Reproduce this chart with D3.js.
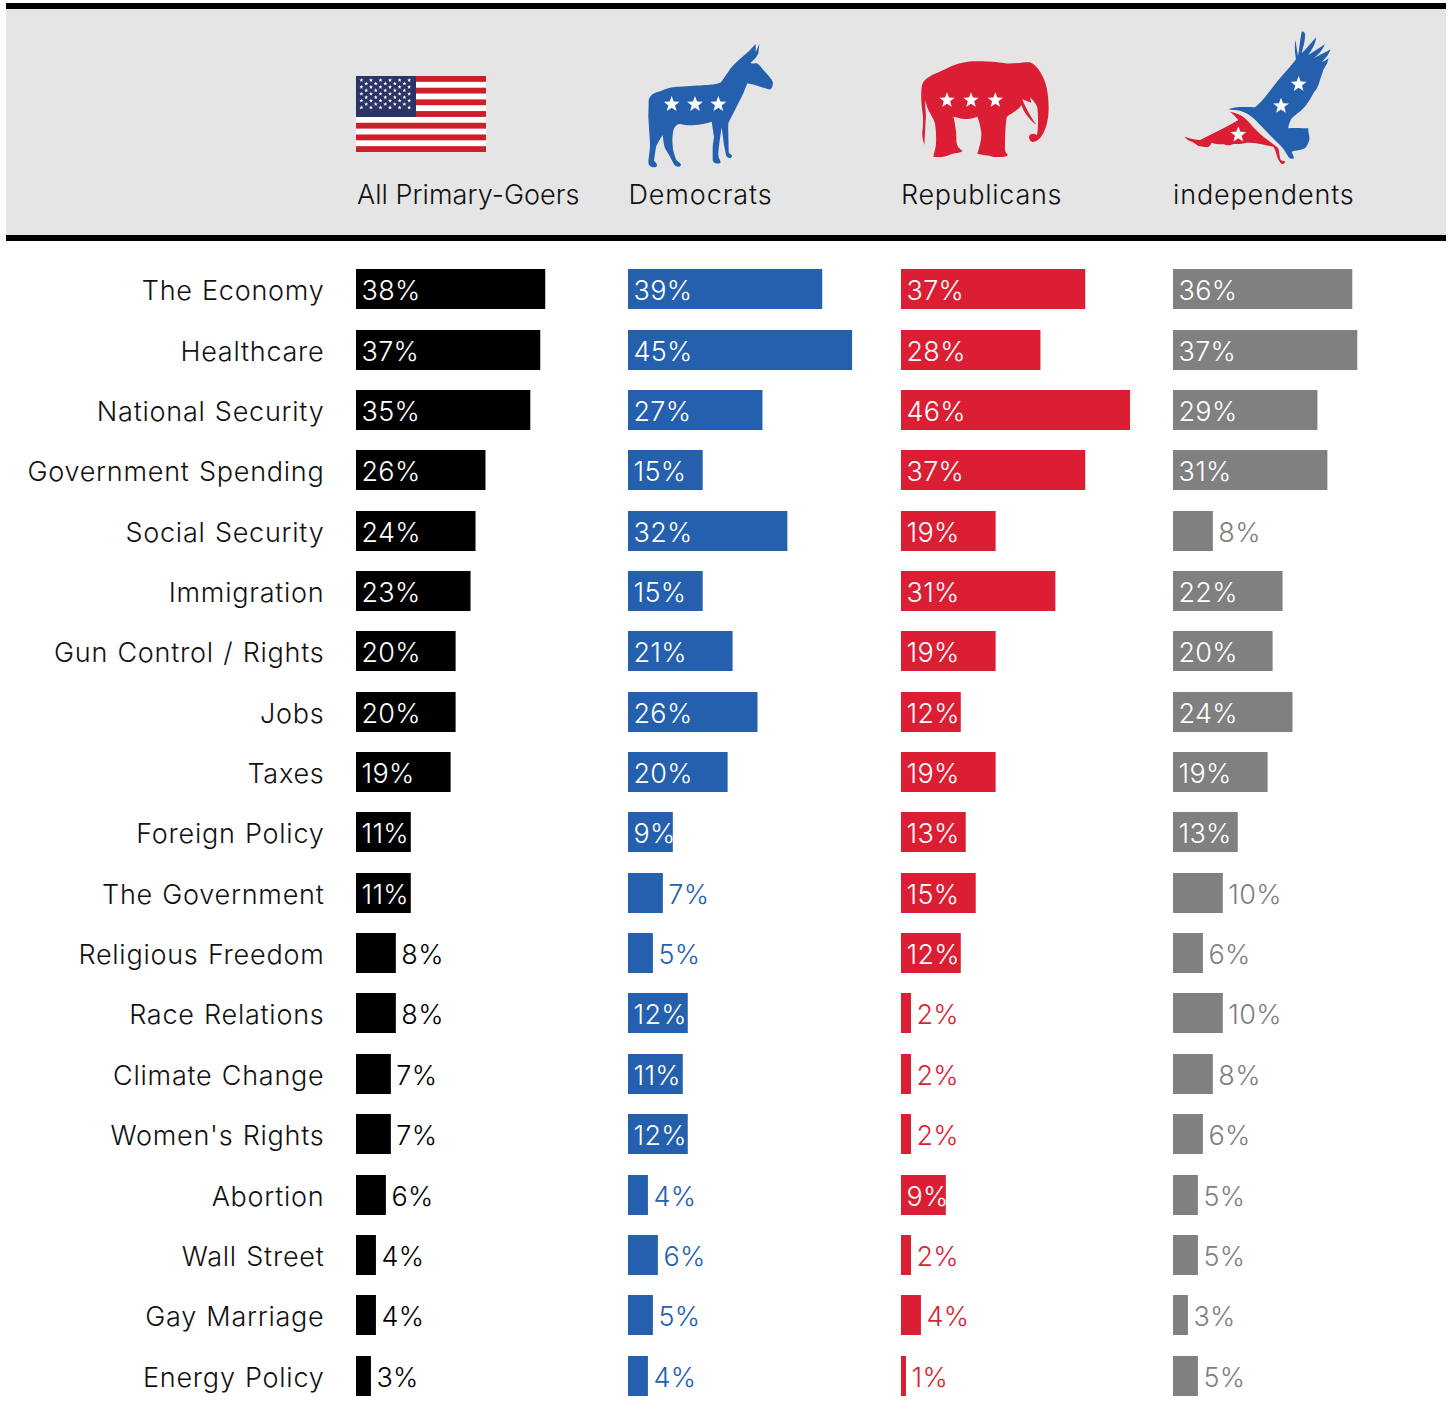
<!DOCTYPE html>
<html><head><meta charset="utf-8">
<script src="https://cdn.jsdelivr.net/npm/d3@7"></script>
<style>html,body{margin:0;padding:0;background:#fff}svg{display:block}
text{font-family:Inter,"Noto Sans",sans-serif;font-weight:300;font-size:27px}</style>
</head><body><div id="c"></div>
<script>
const categories=["The Economy","Healthcare","National Security","Government Spending","Social Security","Immigration","Gun Control / Rights","Jobs","Taxes","Foreign Policy","The Government","Religious Freedom","Race Relations","Climate Change","Women's Rights","Abortion","Wall Street","Gay Marriage","Energy Policy"];
const seriesNames=["All Primary-Goers","Democrats","Republicans","independents"];
const allPrimaryGoers=[38,37,35,26,24,23,20,20,19,11,11,8,8,7,7,6,4,4,3];
const democrats=[39,45,27,15,32,15,21,26,20,9,7,5,12,11,12,4,6,5,4];
const republicans=[37,28,46,37,19,31,19,12,19,13,15,12,2,2,2,9,2,4,1];
const independents=[36,37,29,31,8,22,20,24,19,13,10,6,10,8,6,5,5,3,5];
const seriesValues=[allPrimaryGoers,democrats,republicans,independents];
const seriesColors=["#000000","#2460ae","#db1e33","#808080"];
const colStart=[356,628,901,1173];
const headerSpacing=[0.05,0.9,0.7,0.85];
const headerOffset=[1,0.5,0,0];

const W=1449,H=1414;
const svg=d3.select("#c").append("svg").attr("width",W).attr("height",H);
svg.append("rect").attr("x",6).attr("y",3).attr("width",1440).attr("height",238).attr("fill","#e5e5e5");
svg.append("rect").attr("x",6).attr("y",3).attr("width",1440).attr("height",6).attr("fill","#000");
svg.append("rect").attr("x",6).attr("y",235).attr("width",1440).attr("height",6).attr("fill","#000");

const x=d3.scaleLinear().domain([0,10]).range([0,49.8]);
const y=d3.scaleBand().domain(categories).range([269.66,1396.14]).paddingInner(20.36/60.36).paddingOuter(0);
const bh=40;
const rowY=d=>Math.floor(y(d));
const inside=d=>d>=9&&d!==10;

svg.append("g").selectAll("text").data(categories).join("text")
 .attr("x",324.5).attr("y",d=>rowY(d)+30.5).attr("text-anchor","end").attr("fill","#111")
 .style("letter-spacing","0.75px").style("word-spacing","1px").text(d=>d);

seriesValues.forEach((vals,si)=>{
 const g=svg.append("g").attr("transform",`translate(${colStart[si]},0)`);
 g.append("text").attr("x",headerOffset[si]).attr("y",204).attr("fill","#111")
  .style("letter-spacing",headerSpacing[si]+"px").text(seriesNames[si]);
 const rows=g.selectAll("g").data(vals).join("g").attr("transform",(d,i)=>`translate(0,${rowY(categories[i])})`);
 rows.append("rect").attr("width",d=>x(d)).attr("height",bh).attr("fill",seriesColors[si]);
 rows.append("text").attr("y",30.5)
  .attr("x",d=>inside(d)?5.5:x(d)+5.5).style("letter-spacing","0.3px")
  .attr("fill",d=>inside(d)?"#fff":seriesColors[si]).text(d=>d+"%");
});

// ---- icons ----
function starPath(cx,cy,R){const r=R*0.42;let p=[];for(let i=0;i<10;i++){const a=-Math.PI/2+i*Math.PI/5,q=i%2?r:R;p.push([cx+q*Math.cos(a),cy+q*Math.sin(a)]);}return "M"+p.map(d=>d.join(",")).join("L")+"Z";}
// flag
const flag=svg.append("g").attr("transform","translate(356,76)");
flag.append("rect").attr("width",130).attr("height",76).attr("fill","#fff");
d3.range(0,13,2).forEach(i=>flag.append("rect").attr("y",i*76/13).attr("width",130).attr("height",76/13).attr("fill","#cb1f2a"));
flag.append("rect").attr("width",60).attr("height",41).attr("fill","#2b3467");
d3.range(9).forEach(r=>{const n=r%2?5:6;d3.range(n).forEach(c=>{
 flag.append("path").attr("d",starPath((r%2?10.2:5.4)+c*9.55,4.2+r*3.42,2.1)).attr("fill","#fff");});});

// donkey (coords in 3x crop at 340,20)
const don=svg.append("g").attr("transform","translate(340,20) scale(0.33333)");
don.append("path").attr("fill","#2460ae").attr("d","M1247,72L1228,92L1210,108C1195,120 1180,135 1172,145C1160,162 1150,178 1143,187C1130,194 1110,195 1050,198C1020,200 1000,201 990,203C975,207 965,213 950,217C935,222 926,232 926,245L925,290L928,340C930,360 930,370 930,380L925,425C925,438 935,442 945,442C955,440 952,430 942,422L948,380C955,365 962,355 968,345C970,365 972,375 975,385L990,410L1003,435C1010,442 1022,442 1023,434C1020,426 1010,424 1008,418C1002,400 998,390 998,375C996,355 998,340 1002,325C1008,316 1012,312 1020,312C1035,316 1050,316 1060,316C1080,314 1100,310 1115,305L1122,350C1120,365 1118,375 1118,385L1118,420C1120,430 1130,434 1142,428C1142,420 1135,415 1135,405C1136,380 1140,355 1145,322C1148,345 1150,360 1152,375L1158,405C1160,415 1175,418 1176,408C1174,400 1168,404 1166,395C1166,360 1164,335 1165,310C1172,295 1180,280 1185,270C1195,250 1205,232 1210,220L1222,190C1230,192 1240,194 1245,195L1285,208C1295,210 1298,200 1299,190C1298,180 1290,172 1270,150C1262,140 1255,132 1250,130C1245,130 1235,132 1232,128C1245,118 1252,108 1255,100L1258,72L1247,96Z");
[[995,253],[1065,253],[1135,253]].forEach(s=>don.append("path").attr("d",starPath(s[0],s[1],25)).attr("fill","#fff"));

// elephant (coords in 3x crop at 890,20)
const ic=svg.append("g").attr("transform","translate(890,20) scale(0.33333)");
ic.append("path").attr("fill","#db1e33").attr("d","M95,200C98,185 105,178 118,170C130,162 145,158 165,148C190,135 215,126 250,124C280,123 320,125 345,130C365,133 395,127 420,127C440,135 455,160 465,185C472,205 476,235 476,265C476,295 470,320 460,340C452,355 440,366 428,366C418,364 414,352 420,344C428,338 436,342 441,345C445,325 445,290 442,262C436,248 428,240 420,232L424,248L397,238C403,255 415,280 440,316C415,295 400,275 395,255C392,258 388,265 380,270C368,280 355,285 350,292C346,320 345,350 345,375C344,388 345,398 353,403C355,410 340,412 310,411C295,405 275,405 262,402C268,380 275,360 274,340C272,320 268,305 262,290C250,294 240,297 225,297C210,296 200,292 190,290C195,310 200,335 199,360C199,375 205,385 218,393C210,400 195,398 180,404C165,412 145,412 130,410C132,395 138,385 138,370C139,350 138,330 135,310C130,295 120,280 115,270C110,258 108,248 105,240C106,265 109,285 107,300C105,325 105,350 103,375C98,360 96,345 97,335C100,315 100,300 98,280C94,255 92,225 95,200Z");
[[171,241],[243,241],[316,241]].forEach(s=>ic.append("path").attr("d",starPath(s[0],s[1],24)).attr("fill","#fff"));

// eagle
ic.append("path").attr("fill","#2460ae").attr("d","M1015,268C1030,260 1060,260 1095,262C1110,250 1120,238 1130,225L1165,180L1200,140L1218,118C1215,100 1213,80 1216,60C1220,80 1221,95 1224,108C1228,85 1230,60 1235,35C1242,32 1247,40 1245,50C1244,70 1238,85 1235,100C1250,85 1265,68 1278,52C1278,70 1265,90 1255,105C1272,95 1290,82 1305,72C1298,90 1285,105 1270,115C1285,108 1305,98 1322,88C1316,105 1305,118 1295,125C1303,125 1310,120 1315,115C1314,130 1305,140 1300,150C1296,165 1292,172 1290,180C1285,200 1278,210 1270,220C1260,240 1250,255 1240,265C1228,278 1215,285 1205,295C1200,305 1195,315 1195,325C1215,322 1240,325 1255,325C1254,335 1260,350 1258,360C1254,372 1250,380 1245,385C1232,392 1218,390 1205,395C1208,403 1212,410 1212,415C1205,418 1198,415 1195,410C1188,398 1180,385 1170,375C1155,360 1142,348 1130,335C1115,320 1100,302 1085,290C1072,280 1062,276 1050,272C1040,270 1028,270 1015,268Z");
ic.append("path").attr("fill","#db1e33").attr("d","M1020,275C1035,278 1045,282 1050,285C1062,292 1072,300 1080,310C1092,325 1105,338 1120,350C1135,362 1152,374 1165,385C1168,395 1168,410 1172,420C1178,424 1183,422 1186,425C1184,430 1180,432 1175,432C1168,426 1162,415 1160,405C1158,396 1155,388 1150,380C1135,378 1122,374 1110,372C1095,368 1082,368 1070,368C1055,372 1042,372 1030,372C1018,378 1008,376 1000,372C990,374 978,372 965,368C962,376 956,382 950,382L925,378C918,372 912,368 905,365C895,362 888,356 883,350C900,355 915,360 930,360C950,350 970,340 990,330C1010,320 1028,310 1045,300C1038,292 1030,282 1020,275Z");
[[1226,193],[1173,258],[1045,344]].forEach(s=>ic.append("path").attr("d",starPath(s[0],s[1],25)).attr("fill","#fff"));
</script></body></html>
